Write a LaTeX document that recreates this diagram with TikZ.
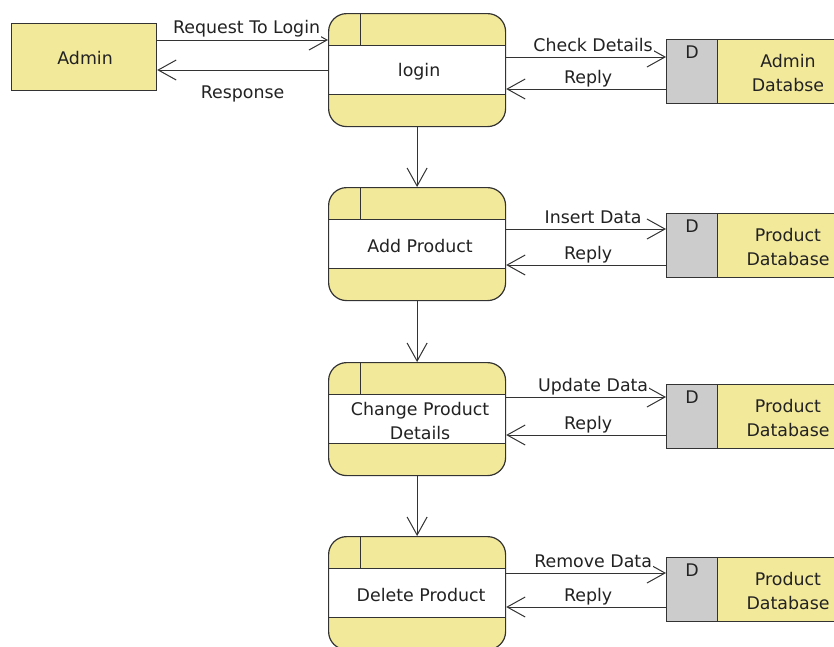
\documentclass[tikz,border=0pt]{standalone}
\usepackage{fontspec}
\setmainfont{DejaVu Sans}
\usetikzlibrary{arrows.meta,calc}
\definecolor{yel}{HTML}{F3E99B}
\definecolor{gry}{HTML}{CCCCCC}
\definecolor{ln}{HTML}{333333}
\definecolor{txt}{HTML}{222222}
\begin{document}
\begin{tikzpicture}[x=1pt,y=-1pt,
  font=\fontsize{17.4}{24}\selectfont, text=txt,
  entbox/.style={draw=ln, fill=yel, line width=1.2pt, minimum width=145pt,
    minimum height=67pt, inner sep=0pt, anchor=north west},
  procbox/.style={draw=ln, fill=yel, line width=1.2pt, rounded corners=18pt,
    minimum width=177pt, minimum height=113pt, inner sep=0pt, anchor=north west,
    align=center,
    path picture={
      \fill[white, sharp corners] ([yshift=-32pt]path picture bounding box.north west)
        rectangle ([yshift=-81pt]path picture bounding box.north east);
      \draw[ln, line width=1.2pt, sharp corners]
        ([yshift=-32pt]path picture bounding box.north west) --
        ([yshift=-32pt]path picture bounding box.north east)
        ([yshift=-81pt]path picture bounding box.north west) --
        ([yshift=-81pt]path picture bounding box.north east)
        ([xshift=32pt]path picture bounding box.north west) --
        ([xshift=32pt,yshift=-32pt]path picture bounding box.north west);
    }},
  ptext/.style={align=center, inner sep=0pt},
  storebox/.style={draw=ln, fill=yel, line width=1.2pt, minimum width=172pt,
    minimum height=64pt, inner sep=0pt, anchor=north west,
    path picture={
      \fill[gry] (path picture bounding box.north west)
        rectangle ([xshift=51pt]path picture bounding box.south west);
      \draw[ln, line width=1.2pt] ([xshift=51pt]path picture bounding box.north west)
        -- ([xshift=51pt]path picture bounding box.south west);
    }},
  dlbl/.style={anchor=north, inner sep=0pt},
  stlbl/.style={align=center, inner sep=0pt},
  flow/.style={draw=ln, line width=1pt, -{Straight Barb[length=18pt,width=20pt]}},
  lbl/.style={anchor=base, inner sep=1pt, fill=white}
]
\useasboundingbox (0,0) rectangle (834,646);

% external entity
\node[entbox] (admin) at (11,23) {};
\node[ptext] (admint) at ([xshift=1pt,yshift=-1pt]admin.center) {Admin};

% processes
\node[procbox] (login) at (328,13) {};
\node[procbox] (add) at (328,187) {};
\node[procbox] (change) at (328,362) {};
\node[procbox] (del) at (328,536) {};
\node[ptext] (logint) at ([xshift=2pt,yshift=-1.5pt]login.center) {login};
\node[ptext] (addt) at ([xshift=3pt,yshift=-1.5pt]add.center) {Add Product};
\node[ptext] (changet) at ([xshift=3pt,yshift=-1.5pt]change.center) {Change Product\\Details};
\node[ptext] (delt) at ([xshift=4pt,yshift=-1.5pt]del.center) {Delete Product};

% data stores
\node[storebox] (s1) at (666,39) {};
\node[storebox] (s2) at (666,213) {};
\node[storebox] (s3) at (666,384) {};
\node[storebox] (s4) at (666,557) {};
\foreach \s in {s1,s2,s3,s4}{
  \node[dlbl] (\s d) at ([xshift=26pt,yshift=-7pt]\s.north west) {D};
}
\node[stlbl] (s1t) at ([xshift=122pt,yshift=-1.5pt]s1.west) {Admin\\Databse};
\node[stlbl] (s2t) at ([xshift=122pt,yshift=-1.5pt]s2.west) {Product\\Database};
\node[stlbl] (s3t) at ([xshift=122pt,yshift=-1.5pt]s3.west) {Product\\Database};
\node[stlbl] (s4t) at ([xshift=122pt,yshift=-1.5pt]s4.west) {Product\\Database};

% admin <-> login
\draw[flow] (admin.east |- 0,40) -- (login.west |- 0,40)
  node[lbl, midway, xshift=4pt, yshift=7pt] (l1) {Request To Login};
\draw[flow] (login.west |- 0,70) -- (admin.east |- 0,70)
  node[lbl, midway, yshift=-28pt] (l2) {Response};

% process <-> stores
\draw[flow] (login.east |- 0,57) -- (s1.west |- 0,57)
  node[lbl, midway, xshift=7pt, yshift=6pt] (l3) {Check Details};
\draw[flow] (s1.west |- 0,89) -- (login.east |- 0,89)
  node[lbl, midway, xshift=2pt, yshift=6pt] (l4) {Reply};

\draw[flow] (add.east |- 0,229) -- (s2.west |- 0,229)
  node[lbl, midway, xshift=7pt, yshift=6pt] (l5) {Insert Data};
\draw[flow] (s2.west |- 0,265) -- (add.east |- 0,265)
  node[lbl, midway, xshift=2pt, yshift=6pt] (l6) {Reply};

\draw[flow] (change.east |- 0,397) -- (s3.west |- 0,397)
  node[lbl, midway, xshift=7pt, yshift=6pt] (l7) {Update Data};
\draw[flow] (s3.west |- 0,435) -- (change.east |- 0,435)
  node[lbl, midway, xshift=2pt, yshift=6pt] (l8) {Reply};

\draw[flow] (del.east |- 0,573) -- (s4.west |- 0,573)
  node[lbl, midway, xshift=7pt, yshift=6pt] (l9) {Remove Data};
\draw[flow] (s4.west |- 0,607) -- (del.east |- 0,607)
  node[lbl, midway, xshift=2pt, yshift=6pt] (l10) {Reply};

% process flow
\draw[flow] (login.south) -- (add.north);
\draw[flow] (add.south) -- (change.north);
\draw[flow] (change.south) -- (del.north);
\end{tikzpicture}
\end{document}
